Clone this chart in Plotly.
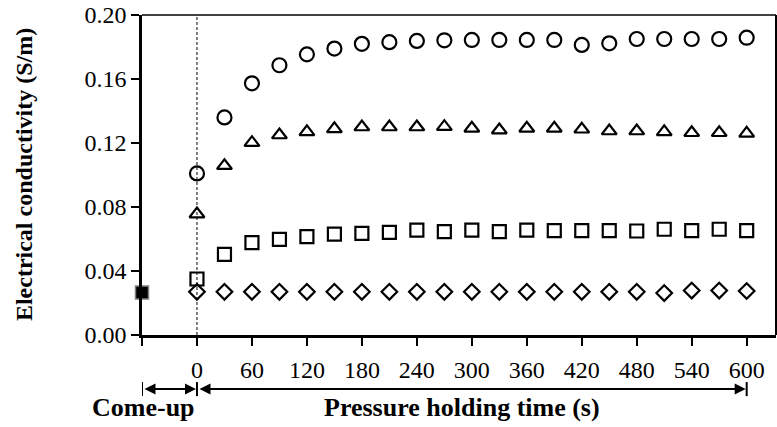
import plotly.graph_objects as go

# ---- data ----
time_s = [0, 30, 60, 90, 120, 150, 180, 210, 240, 270, 300, 330, 360, 390, 420, 450, 480, 510, 540, 570, 600]
circle_vals = [0.101, 0.136, 0.1573, 0.1686, 0.1754, 0.179, 0.182, 0.183, 0.1838,
               0.1842, 0.1844, 0.1844, 0.1844, 0.1844, 0.1813, 0.1823, 0.185, 0.185, 0.185, 0.185, 0.1858]
triangle_vals = [0.0756, 0.1058, 0.1202, 0.125, 0.127, 0.1288, 0.130, 0.130, 0.130,
                 0.1302, 0.1292, 0.1281, 0.1292, 0.1292, 0.1286, 0.1275, 0.1275, 0.127, 0.1264, 0.1264, 0.126]
square_vals = [0.035, 0.0504, 0.0577, 0.0598, 0.0615, 0.0631, 0.0635, 0.0642, 0.0656,
               0.0646, 0.0656, 0.0646, 0.0656, 0.0652, 0.0652, 0.0652, 0.065, 0.0661, 0.0652, 0.0661, 0.0652]
diamond_vals = [0.027, 0.027, 0.027, 0.027, 0.027, 0.027, 0.027, 0.027, 0.027,
                0.027, 0.027, 0.027, 0.027, 0.027, 0.027, 0.027, 0.027, 0.0262, 0.0278, 0.0278, 0.0275]
comeup_time = [-60]
comeup_vals = [0.0265]

x_tickvals = [-60, 0, 60, 120, 180, 240, 300, 360, 420, 480, 540, 600]
x_ticktext = ["", "0", "60", "120", "180", "240", "300", "360", "420", "480", "540", "600"]
y_tickvals = [0.00, 0.04, 0.08, 0.12, 0.16, 0.20]

segments = [(-60, 0), (0, 600)]
segment_labels = ["Come-up", "Pressure holding time (s)"]
y_title = "Electrical conductivity (S/m)"

FONT = "Liberation Serif"

fig = go.Figure()

def add_series(y, symbol, size):
    fig.add_trace(go.Scatter(
        x=time_s, y=y, mode="markers", cliponaxis=False, showlegend=False,
        marker=dict(symbol=symbol, size=size, color="black", line=dict(color="black", width=2.2)),
    ))

add_series(circle_vals, "circle-open", 14)
add_series(triangle_vals, "triangle-up-open", 13)
add_series(square_vals, "square-open", 13)
add_series(diamond_vals, "diamond-open", 12)

fig.add_trace(go.Scatter(
    x=comeup_time, y=comeup_vals, mode="markers", cliponaxis=False, showlegend=False,
    marker=dict(symbol="square", size=13, color="black", line=dict(color="#808080", width=1.5)),
))

shapes = []
# dashed line at time 0
shapes.append(dict(type="line", xref="x", yref="paper", x0=0, x1=0, y0=0, y1=1,
                   line=dict(color="black", width=1, dash="3px,2px"), layer="below"))
# top and right borders
shapes.append(dict(type="line", xref="paper", yref="paper", x0=0, x1=1, y0=1, y1=1,
                   line=dict(color="black", width=1.5)))
shapes.append(dict(type="line", xref="paper", yref="paper", x0=1, x1=1, y0=0, y1=1,
                   line=dict(color="black", width=2)))

ARROW_Y = -0.169
annotations = []
ends = sorted(set([p for s in segments for p in s]))
for xe in ends:
    shapes.append(dict(type="line", xref="x", yref="paper", x0=xe, x1=xe,
                       y0=ARROW_Y - 0.022, y1=ARROW_Y + 0.022,
                       line=dict(color="black", width=2)))
for (a, b) in segments:
    annotations.append(dict(x=b, y=ARROW_Y, xref="x", yref="paper",
                            ax=a, ay=0, axref="x", ayref="pixel",
                            text="", showarrow=True, arrowhead=2, arrowside="end+start",
                            arrowsize=1.1, arrowwidth=2, arrowcolor="black",
                            standoff=1, startstandoff=1))

annotations.append(dict(x=0.003, y=-0.228, xref="paper", yref="paper",
                        text="<b>" + segment_labels[0] + "</b>",
                        showarrow=False, xanchor="center", yanchor="middle",
                        font=dict(family=FONT, size=26, color="black")))
annotations.append(dict(x=0.505, y=-0.228, xref="paper", yref="paper",
                        text="<b>" + segment_labels[1] + "</b>",
                        showarrow=False, xanchor="center", yanchor="middle",
                        font=dict(family=FONT, size=26, color="black")))
annotations.append(dict(x=-0.186, y=0.5, xref="paper", yref="paper", text="<b>" + y_title + "</b>",
                        textangle=-90, showarrow=False, xanchor="center", yanchor="middle",
                        font=dict(family=FONT, size=24, color="black")))

fig.update_layout(
    width=777, height=427,
    margin=dict(l=142, r=1, t=15, b=92),
    paper_bgcolor="white", plot_bgcolor="white",
    font=dict(family=FONT, size=24, color="black"),
    shapes=shapes, annotations=annotations,
    xaxis=dict(range=[-60, 632], tickvals=x_tickvals, ticktext=x_ticktext,
               showgrid=False, zeroline=False, showline=True, linecolor="black", linewidth=2.5,
               ticks="outside", ticklen=8, tickwidth=2, tickcolor="black",
               ticklabelstandoff=3, tickfont=dict(family=FONT, size=24, color="black")),
    yaxis=dict(range=[0, 0.2], tickvals=y_tickvals, tickformat=".2f",
               showgrid=False, zeroline=False, showline=True, linecolor="black", linewidth=2.5,
               ticks="outside", ticklen=8, tickwidth=2, tickcolor="black",
               tickfont=dict(family=FONT, size=24, color="black")),
)

fig.write_html("out.html")
